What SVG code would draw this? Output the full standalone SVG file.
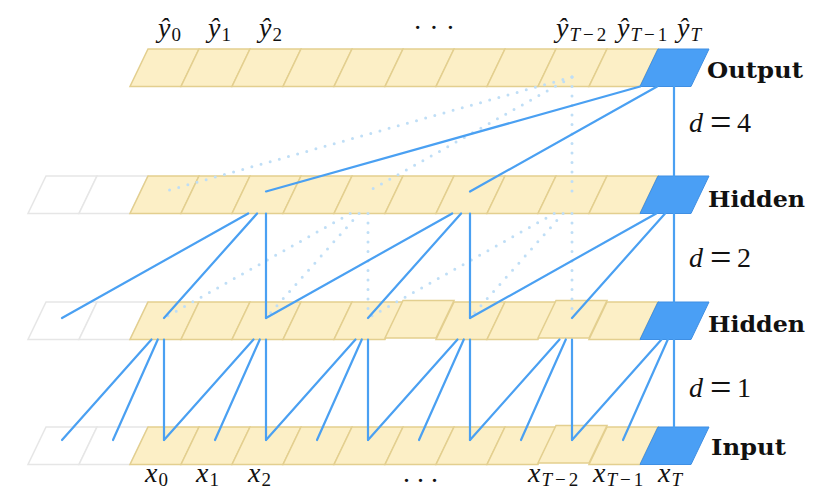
<svg xmlns="http://www.w3.org/2000/svg" xmlns:xlink="http://www.w3.org/1999/xlink" width="832" height="502" viewBox="0 0 832 502">
<defs>
<path id="cell" d="M18,0 H69 L51,37.5 H0 Z"/>
</defs>
<style>
.c{fill:#fcefc6;stroke:#e3cf8f;stroke-width:1.5}
.g{fill:#ffffff;stroke:#e6e6e6;stroke-width:1.5}
.b{fill:#4a9ff5;stroke:#3f8fe3;stroke-width:1}
.ln{stroke:#4aa0f2;stroke-width:2.2;fill:none;stroke-linecap:round}
.dt{stroke:#bfdef6;stroke-width:3;fill:none;stroke-linecap:round;stroke-dasharray:0 9.5}
.m{font-family:"Liberation Serif","DejaVu Serif",serif;font-style:italic;font-size:28px;fill:#111}
.r{font-style:normal}
.s{font-size:19px}
.eq{font-size:38px}
.lb{font-family:"DejaVu Serif","Liberation Serif",serif;font-weight:bold;font-size:22px;fill:#111}
</style>
<rect width="832" height="502" fill="#ffffff"/>

<!-- Output layer -->
<g id="layer-output">
<use id="out-0" xlink:href="#cell" href="#cell" class="c" x="130" y="49"/>
<use id="out-1" xlink:href="#cell" href="#cell" class="c" x="181" y="49"/>
<use id="out-2" xlink:href="#cell" href="#cell" class="c" x="232" y="49"/>
<use id="out-3" xlink:href="#cell" href="#cell" class="c" x="283" y="49"/>
<use id="out-4" xlink:href="#cell" href="#cell" class="c" x="334" y="49"/>
<use id="out-5" xlink:href="#cell" href="#cell" class="c" x="385" y="49"/>
<use id="out-6" xlink:href="#cell" href="#cell" class="c" x="436" y="49"/>
<use id="out-7" xlink:href="#cell" href="#cell" class="c" x="487" y="49"/>
<use id="out-8" xlink:href="#cell" href="#cell" class="c" x="538" y="49"/>
<use id="out-9" xlink:href="#cell" href="#cell" class="c" x="589" y="49"/>
<use id="out-10" xlink:href="#cell" href="#cell" class="b" x="640" y="49"/>
<text class="lb" x="707" y="78.3" textLength="96" lengthAdjust="spacingAndGlyphs">Output</text>
</g>

<!-- Hidden layer 1 -->
<g id="layer-hidden1">
<use id="h1-m2" xlink:href="#cell" href="#cell" class="g" x="28" y="176"/>
<use id="h1-m1" xlink:href="#cell" href="#cell" class="g" x="79" y="176"/>
<use id="h1-0" xlink:href="#cell" href="#cell" class="c" x="130" y="176"/>
<use id="h1-1" xlink:href="#cell" href="#cell" class="c" x="181" y="176"/>
<use id="h1-2" xlink:href="#cell" href="#cell" class="c" x="232" y="176"/>
<use id="h1-3" xlink:href="#cell" href="#cell" class="c" x="283" y="176"/>
<use id="h1-4" xlink:href="#cell" href="#cell" class="c" x="334" y="176"/>
<use id="h1-5" xlink:href="#cell" href="#cell" class="c" x="385" y="176"/>
<use id="h1-6" xlink:href="#cell" href="#cell" class="c" x="436" y="176"/>
<use id="h1-7" xlink:href="#cell" href="#cell" class="c" x="487" y="176"/>
<use id="h1-8" xlink:href="#cell" href="#cell" class="c" x="538" y="176"/>
<use id="h1-9" xlink:href="#cell" href="#cell" class="c" x="589" y="176"/>
<use id="h1-10" xlink:href="#cell" href="#cell" class="b" x="640" y="176"/>
<text class="lb" x="708" y="206.7" textLength="97" lengthAdjust="spacingAndGlyphs">Hidden</text>
</g>

<!-- Hidden layer 2 -->
<g id="layer-hidden2">
<use id="h2-m2" xlink:href="#cell" href="#cell" class="g" x="28" y="302"/>
<use id="h2-m1" xlink:href="#cell" href="#cell" class="g" x="79" y="302"/>
<use id="h2-0" xlink:href="#cell" href="#cell" class="c" x="130" y="302"/>
<use id="h2-1" xlink:href="#cell" href="#cell" class="c" x="181" y="302"/>
<use id="h2-2" xlink:href="#cell" href="#cell" class="c" x="232" y="302"/>
<use id="h2-3" xlink:href="#cell" href="#cell" class="c" x="283" y="302"/>
<use id="h2-4" xlink:href="#cell" href="#cell" class="c" x="334" y="302"/>
<use id="h2-6" xlink:href="#cell" href="#cell" class="c" x="436" y="302"/>
<use id="h2-7" xlink:href="#cell" href="#cell" class="c" x="487" y="302"/>
<use id="h2-9" xlink:href="#cell" href="#cell" class="c" x="589" y="302"/>
<use id="h2-5" xlink:href="#cell" href="#cell" class="c" x="385" y="300.5"/>
<use id="h2-8" xlink:href="#cell" href="#cell" class="c" x="538" y="300.5"/>
<use id="h2-10" xlink:href="#cell" href="#cell" class="b" x="640" y="302"/>
<text class="lb" x="708" y="331.7" textLength="97" lengthAdjust="spacingAndGlyphs">Hidden</text>
</g>

<!-- Input layer -->
<g id="layer-input">
<use id="in-m2" xlink:href="#cell" href="#cell" class="g" x="28" y="427"/>
<use id="in-m1" xlink:href="#cell" href="#cell" class="g" x="79" y="427"/>
<use id="in-0" xlink:href="#cell" href="#cell" class="c" x="130" y="427"/>
<use id="in-1" xlink:href="#cell" href="#cell" class="c" x="181" y="427"/>
<use id="in-2" xlink:href="#cell" href="#cell" class="c" x="232" y="427"/>
<use id="in-3" xlink:href="#cell" href="#cell" class="c" x="283" y="427"/>
<use id="in-4" xlink:href="#cell" href="#cell" class="c" x="334" y="427"/>
<use id="in-5" xlink:href="#cell" href="#cell" class="c" x="385" y="427"/>
<use id="in-6" xlink:href="#cell" href="#cell" class="c" x="436" y="427"/>
<use id="in-7" xlink:href="#cell" href="#cell" class="c" x="487" y="427"/>
<use id="in-9" xlink:href="#cell" href="#cell" class="c" x="589" y="427"/>
<use id="in-8" xlink:href="#cell" href="#cell" class="c" x="538" y="425.5"/>
<use id="in-10" xlink:href="#cell" href="#cell" class="b" x="640" y="427"/>
<text class="lb" x="711" y="455" textLength="75" lengthAdjust="spacingAndGlyphs">Input</text>
</g>

<!-- Connectors -->
<g id="connectors">
<g class="dt">
<path d="M572,77 L164,191.5"/>
<path d="M572,77 L368,191.5"/>
<path d="M572,77 L572,191.5"/>
<path d="M350.2,213.5 L164,318"/>
<path d="M359.1,213.5 L266,318"/>
<path d="M368,213.5 L368,318"/>
<path d="M554.2,213.5 L368,318"/>
<path d="M563.1,213.5 L470,318"/>
<path d="M572,213.5 L572,318"/>
</g>
<g class="ln">
<path d="M62,440 L151.5,339.5 M113,440 L157.8,339.5 M164,440 L164,339.5"/>
<path d="M164,440 L253.5,339.5 M215,440 L259.8,339.5 M266,440 L266,339.5"/>
<path d="M266,440 L355.5,339.5 M317,440 L361.8,339.5 M368,440 L368,339.5"/>
<path d="M368,440 L457.5,339.5 M419,440 L463.8,339.5 M470,440 L470,339.5"/>
<path d="M470,440 L559.5,339.5 M521,440 L565.8,339.5 M572,440 L572,339.5"/>
<path d="M572,440 L661.5,339.5 M623,440 L667.8,339.5 M674,427 L674,339.5"/>
<path d="M62,318 L248.2,213.5 M164,318 L257.1,213.5 M266,318 L266,213.5"/>
<path d="M266,318 L452.2,213.5 M368,318 L461.1,213.5 M470,318 L470,213.5"/>
<path d="M470,318 L656.2,213.5 M572,318 L665.1,213.5 M674,302 L674,213.5"/>
<path d="M266,191.5 L640.1,86.5 M470,191.5 L657.1,86.5 M674,176 L674,86.5"/>
</g>
</g>

<!-- Labels -->
<g id="labels">
<text class="m" x="158" y="37">ŷ<tspan class="s r" dx="1" dy="4">0</tspan></text>
<text class="m" x="208" y="37">ŷ<tspan class="s r" dx="1" dy="4">1</tspan></text>
<text class="m" x="259" y="37">ŷ<tspan class="s r" dx="1" dy="4">2</tspan></text>
<text class="m r" x="413" y="37">· · ·</text>
<text class="m" x="556" y="37">ŷ<tspan class="s" dx="1" dy="4">T</tspan><tspan class="s r" dx="3">−</tspan><tspan class="s r" dx="3">2</tspan></text>
<text class="m" x="617" y="37">ŷ<tspan class="s" dx="1" dy="4">T</tspan><tspan class="s r" dx="3">−</tspan><tspan class="s r" dx="3">1</tspan></text>
<text class="m" x="677" y="37">ŷ<tspan class="s" dx="1" dy="4">T</tspan></text>

<text class="m" x="145" y="481.5">x<tspan class="s r" dx="1" dy="4">0</tspan></text>
<text class="m" x="196" y="481.5">x<tspan class="s r" dx="1" dy="4">1</tspan></text>
<text class="m" x="248" y="481.5">x<tspan class="s r" dx="1" dy="4">2</tspan></text>
<text class="m r" x="403" y="481.5">. . .</text>
<text class="m" x="528" y="481.5">x<tspan class="s" dx="1" dy="4">T</tspan><tspan class="s r" dx="3">−</tspan><tspan class="s r" dx="3">2</tspan></text>
<text class="m" x="593" y="481.5">x<tspan class="s" dx="1" dy="4">T</tspan><tspan class="s r" dx="3">−</tspan><tspan class="s r" dx="3">1</tspan></text>
<text class="m" x="658" y="481.5">x<tspan class="s" dx="1" dy="4">T</tspan></text>

<text class="m" x="689" y="132.3">d<tspan class="r eq" x="710" dy="3">=</tspan><tspan class="r" x="737" dy="-3">4</tspan></text>
<text class="m" x="689" y="267.3">d<tspan class="r eq" x="710" dy="3">=</tspan><tspan class="r" x="737" dy="-3">2</tspan></text>
<text class="m" x="689" y="396.7">d<tspan class="r eq" x="710" dy="3">=</tspan><tspan class="r" x="737" dy="-3">1</tspan></text>
</g>
</svg>
